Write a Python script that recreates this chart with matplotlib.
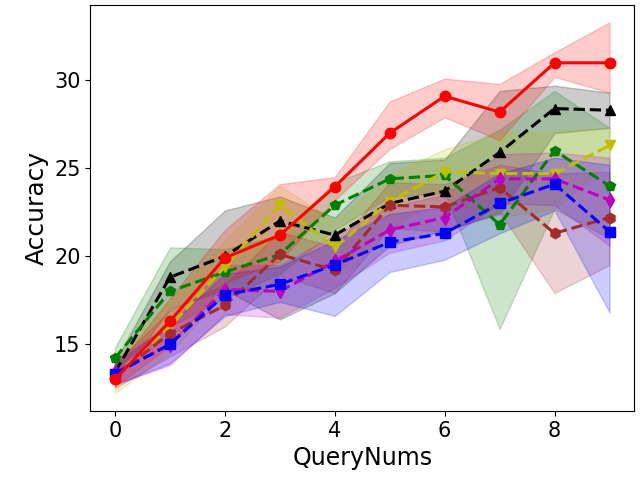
import matplotlib
matplotlib.use('Agg')
import matplotlib.pyplot as plt
import numpy as np

# query rounds
query_nums = np.arange(10)

# mean accuracy per method
acc_red = [13.0, 16.3, 19.9, 21.2, 23.95, 27.0, 29.1, 28.2, 31.0, 31.0]
acc_black = [13.4, 18.8, 20.0, 22.0, 21.2, 23.0, 23.7, 25.9, 28.4, 28.3]
acc_green = [14.2, 18.0, 19.1, 20.1, 22.9, 24.4, 24.6, 21.8, 26.0, 24.0]
acc_yellow = [13.2, 16.0, 19.4, 22.9, 20.5, 23.1, 24.8, 24.7, 24.7, 26.3]
acc_brown = [13.2, 15.6, 17.2, 20.1, 19.2, 22.9, 22.8, 23.9, 21.3, 22.2]
acc_magenta = [13.4, 14.95, 18.1, 18.0, 19.7, 21.5, 22.2, 24.4, 24.4, 23.2]
acc_blue = [13.3, 15.0, 17.8, 18.4, 19.5, 20.8, 21.3, 23.0, 24.1, 21.4]

# shaded band (lower / upper)
lo_red = [12.6, 14.9, 18.5, 19.7, 23.2, 26.1, 27.9, 26.6, 30.2, 29.3]
hi_red = [13.6, 17.6, 21.5, 24.1, 24.5, 28.8, 30.1, 29.8, 31.6, 33.3]
lo_black = [12.8, 17.0, 18.1, 16.4, 17.9, 20.6, 21.5, 22.4, 27.0, 27.3]
hi_black = [14.0, 19.7, 22.6, 23.4, 22.2, 25.3, 25.5, 29.4, 29.7, 29.3]
lo_green = [13.6, 16.0, 17.6, 19.0, 21.5, 23.4, 23.6, 15.85, 22.7, 21.0]
hi_green = [14.8, 20.5, 20.4, 21.2, 24.2, 25.4, 25.6, 27.2, 29.4, 27.3]
lo_yellow = [12.2, 14.5, 17.9, 21.4, 19.0, 21.6, 23.3, 22.2, 22.7, 25.3]
hi_yellow = [14.2, 17.5, 20.9, 24.0, 22.0, 24.6, 26.1, 27.0, 27.1, 27.3]
lo_brown = [12.5, 14.3, 16.0, 18.9, 17.9, 21.6, 21.4, 22.5, 17.9, 19.5]
hi_brown = [13.9, 16.9, 18.4, 21.4, 20.5, 24.2, 24.1, 25.2, 24.7, 24.8]
lo_magenta = [12.7, 13.8, 16.7, 16.5, 18.2, 20.2, 20.9, 23.0, 22.9, 20.6]
hi_magenta = [14.1, 16.1, 19.5, 19.5, 21.2, 22.8, 23.5, 25.8, 25.9, 25.6]
lo_blue = [12.7, 13.9, 16.6, 17.4, 16.6, 19.1, 19.8, 21.3, 22.6, 16.8]
hi_blue = [13.9, 16.1, 19.0, 19.4, 20.9, 22.4, 22.8, 24.7, 25.6, 25.2]

series = [
    (acc_black, lo_black, hi_black, 'k', '^', '--'),
    (acc_green, lo_green, hi_green, 'g', 'p', '--'),
    (acc_yellow, lo_yellow, hi_yellow, 'y', 'v', '--'),
    (acc_brown, lo_brown, hi_brown, 'brown', 'h', '--'),
    (acc_magenta, lo_magenta, hi_magenta, 'm', 'd', '--'),
    (acc_blue, lo_blue, hi_blue, 'b', 's', '--'),
    (acc_red, lo_red, hi_red, 'r', 'o', '-'),
]

fig = plt.figure(figsize=(6.4, 4.8), dpi=100)
ax = fig.add_axes([0.141, 0.144, 0.85, 0.846])

for acc, lo, hi, c, m, ls in series:
    ax.fill_between(query_nums, lo, hi, color=c, alpha=0.2)
for acc, lo, hi, c, m, ls in series:
    ax.plot(query_nums, acc, color=c, marker=m, linestyle=ls, linewidth=2.2, markersize=7.5)

# title sits mostly above the figure edge, as in the original
ax.set_title('Accuracy by Query Strategy', fontsize=18, pad=6.8)
ax.set_xlabel('QueryNums', fontsize=17)
ax.set_ylabel('Accuracy', fontsize=18)
ax.tick_params(labelsize=15)
ax.set_xticks([0, 2, 4, 6, 8])
ax.set_yticks([15, 20, 25, 30])
ax.set_ylim(11.2, 34.3)

fig.savefig('out.png')
